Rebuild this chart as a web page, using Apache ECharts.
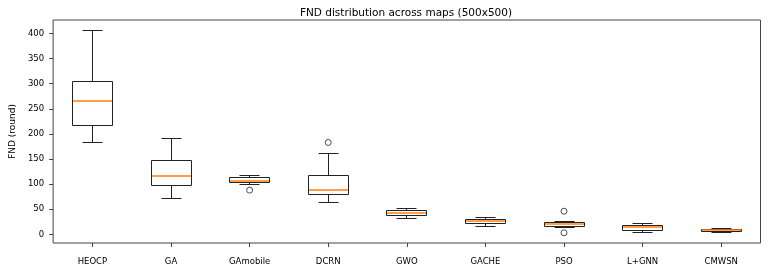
<!DOCTYPE html>
<html>
<head>
<meta charset="utf-8">
<script src="https://cdn.jsdelivr.net/npm/echarts@6/dist/echarts.min.js"></script>
<style>
  html, body { margin: 0; padding: 0; background: #fff; }
  #chart { width: 772px; height: 271px; }
</style>
</head>
<body>
<div id="chart"></div>
<script>
// categories and box stats
const categories = ["HEOCP", "GA", "GAmobile", "DCRN", "GWO", "GACHE", "PSO", "L+GNN", "CMWSN"];
const whiskerLow  = [183, 72, 100, 64, 31, 16, 13, 3, 3];
const q1          = [217, 97, 104, 80, 38, 22, 15, 8, 5];
const median      = [265, 117, 107, 88, 43, 26, 20, 15, 8];
const q3          = [305, 147, 113, 117, 48, 29, 23, 17, 10];
const whiskerHigh = [407, 191, 117, 161, 51, 34, 25, 21, 12];

// fliers
const outlierCategory = ["GAmobile", "DCRN", "PSO", "PSO"];
const outlierValue    = [88, 183, 46, 3];

const yTicks = [0, 50, 100, 150, 200, 250, 300, 350, 400];

const boxData = categories.map((c, i) => [i, whiskerLow[i], q1[i], median[i], q3[i], whiskerHigh[i]]);
const outlierData = outlierCategory.map((c, i) => [categories.indexOf(c), outlierValue[i]]);

const font = "DejaVu Sans";
const crisp = v => Math.round(v - 0.5) + 0.5;

const chart = echarts.init(document.getElementById("chart"));

chart.setOption({
  animation: false,
  title: {
    text: "FND distribution across maps (500x500)",
    left: 401,
    top: 3,
    textAlign: "center",
    textStyle: { fontFamily: font, fontSize: 10.5, fontWeight: "normal", color: "#000" }
  },
  grid: {
    left: 41.5, right: 11.5, top: 20, bottom: 28,
    show: true, borderColor: "#444", borderWidth: 1, backgroundColor: "transparent"
  },
  xAxis: {
    type: "category",
    data: categories,
    boundaryGap: true,
    axisLine: { show: false, onZero: false },
    axisTick: { show: true, alignWithLabel: true, length: 4, lineStyle: { color: "#444" } },
    axisLabel: { fontFamily: font, fontSize: 8.5, color: "#000", margin: 14, interval: 0 },
    splitLine: { show: false }
  },
  yAxis: {
    type: "value",
    min: -17.3,
    max: 427,
    name: "FND (round)",
    nameLocation: "middle",
    nameGap: 30,
    nameTextStyle: { fontFamily: font, fontSize: 9, color: "#000" },
    axisLine: { show: false, onZero: false },
    axisTick: { show: true, length: 4, customValues: yTicks, lineStyle: { color: "#444" } },
    axisLabel: { fontFamily: font, fontSize: 8.5, color: "#000", margin: 9, customValues: yTicks },
    splitLine: { show: false }
  },
  series: [
    {
      type: "custom",
      data: boxData,
      encode: { x: 0, y: [1, 2, 3, 4, 5] },
      renderItem(params, api) {
        const i = api.value(0);
        const pLo = api.coord([i, api.value(1)]);
        const pQ1 = api.coord([i, api.value(2)]);
        const pMed = api.coord([i, api.value(3)]);
        const pQ3 = api.coord([i, api.value(4)]);
        const pHi = api.coord([i, api.value(5)]);
        const bw = api.size([1, 0])[0] * 0.5;
        const cx = crisp(pLo[0]);
        const x0 = crisp(cx - bw / 2), x1 = crisp(cx + bw / 2);
        const c0 = crisp(cx - bw / 4), c1 = crisp(cx + bw / 4);
        const yLo = crisp(pLo[1]), yQ1 = crisp(pQ1[1]), yQ3 = crisp(pQ3[1]), yHi = crisp(pHi[1]);
        const yMed = Math.round(pMed[1]);
        const line = { stroke: "#222", lineWidth: 1 };
        return {
          type: "group",
          children: [
            { type: "line", shape: { x1: cx, y1: yQ1, x2: cx, y2: yLo }, style: line },
            { type: "line", shape: { x1: cx, y1: yQ3, x2: cx, y2: yHi }, style: line },
            { type: "line", shape: { x1: c0, y1: yLo, x2: c1, y2: yLo }, style: line },
            { type: "line", shape: { x1: c0, y1: yHi, x2: c1, y2: yHi }, style: line },
            { type: "rect", z2: 1, shape: { x: x0, y: yQ3, width: x1 - x0, height: yQ1 - yQ3 },
              style: { fill: "#fff", stroke: "#222", lineWidth: 1 } },
            { type: "line", z2: 5, shape: { x1: x0 + 0.5, y1: yMed, x2: x1 - 0.5, y2: yMed },
              style: { stroke: "#ff7f0e", lineWidth: 1.5 } }
          ]
        };
      }
    },
    {
      type: "scatter",
      data: outlierData,
      symbol: "circle",
      symbolSize: 6,
      itemStyle: { color: "#fff", borderColor: "#222", borderWidth: 1 }
    }
  ]
});
</script>
</body>
</html>
